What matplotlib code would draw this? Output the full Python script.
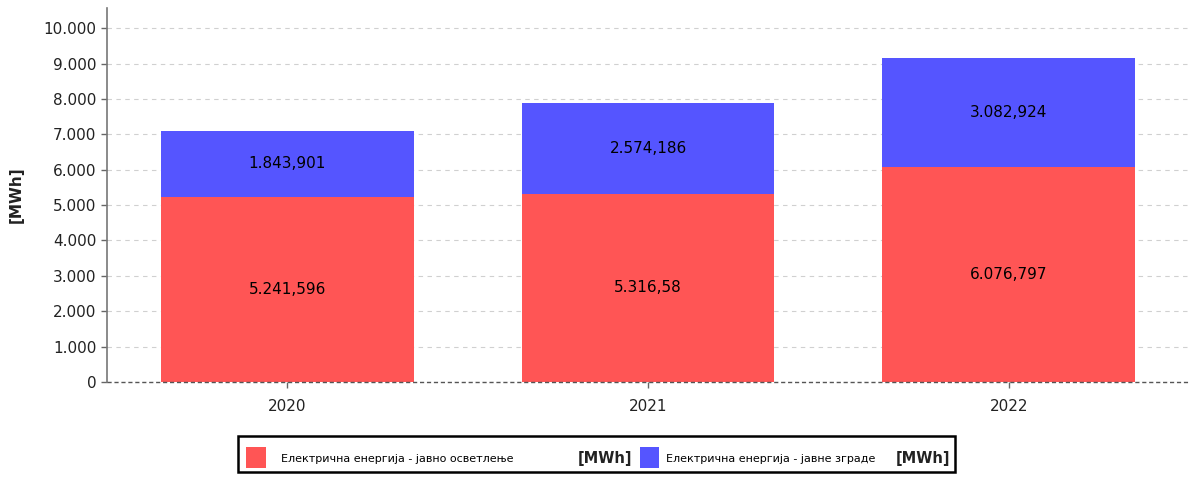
import matplotlib.pyplot as plt
from matplotlib.patches import Rectangle
import numpy as np

#### -------- データ -------- ####
years = ["2020", "2021", "2022"]
lighting = [5241.596, 5316.58, 6076.797]   # јавно осветлење
buildings = [1843.901, 2574.186, 3082.924]  # јавне зграде
lighting_labels = ["5.241,596", "5.316,58", "6.076,797"]
buildings_labels = ["1.843,901", "2.574,186", "3.082,924"]
yticks = [0, 1000, 2000, 3000, 4000, 5000, 6000, 7000, 8000, 9000, 10000]
ytick_labels = ["0", "1.000", "2.000", "3.000", "4.000", "5.000",
                "6.000", "7.000", "8.000", "9.000", "10.000"]

RED = "#FF5555"
BLUE = "#5555FF"

#### -------- グラフ設定 -------- ####
plt.rcParams["font.family"] = ["DejaVu Sans"]
fig = plt.figure(figsize=(11.89, 4.79), dpi=100)
ax = fig.add_axes([0.09, 0.2025, 0.91, 0.7805])

x = np.arange(len(years))
ax.bar(x, lighting, width=0.7, color=RED, zorder=2)
ax.bar(x, buildings, width=0.7, bottom=lighting, color=BLUE, zorder=2)

for i in range(len(years)):
    ax.text(x[i], lighting[i] / 2, lighting_labels[i], ha="center", va="center",
            fontsize=11, color="black", zorder=3)
    ax.text(x[i], lighting[i] + buildings[i] / 2, buildings_labels[i],
            ha="center", va="center", fontsize=11, color="black", zorder=3)

ax.set_xlim(-0.5, 2.5)
ax.set_ylim(0, 10565)
ax.set_xticks(x)
ax.set_xticklabels(years, fontsize=11, color="#222222")
ax.set_yticks(yticks)
ax.set_yticklabels(ytick_labels, fontsize=11, color="#222222")
ax.tick_params(axis="both", color="#666666", length=4, width=1)
ax.tick_params(axis="x", pad=8)

ax.yaxis.grid(True, linestyle=(0, (4, 4)), color="#D0D0D0", lw=0.8, zorder=0)
ax.set_axisbelow(True)
for s in ["top", "right", "bottom"]:
    ax.spines[s].set_visible(False)
ax.spines["left"].set_color("#777777")
ax.spines["left"].set_linewidth(1.2)
ax.axhline(0, color="#555555", linestyle=(0, (3, 2)), lw=1.0, zorder=4, clip_on=False)

ax.set_ylabel("[MWh]", fontsize=11, fontweight="bold", labelpad=14, color="#222222")

#### -------- 凡例 -------- ####
W, H = 1189.0, 479.0
def fx(px):
    return px / W
def fy(py):
    return 1 - py / H

fig.patches.append(Rectangle((fx(238), fy(472)), fx(955) - fx(238), fy(436) - fy(472),
                             transform=fig.transFigure, facecolor="white",
                             edgecolor="black", lw=1.8))
fig.patches.append(Rectangle((fx(246), fy(468)), fx(266) - fx(246), fy(447) - fy(468),
                             transform=fig.transFigure, facecolor=RED, edgecolor="none"))
fig.patches.append(Rectangle((fx(640), fy(468)), fx(659) - fx(640), fy(447) - fy(468),
                             transform=fig.transFigure, facecolor=BLUE, edgecolor="none"))
fig.text(fx(281), fy(459), "Електрична енергија - јавно осветлење", fontsize=8,
         ha="left", va="center")
fig.text(fx(578), fy(458), "[MWh]", fontsize=10.5, fontweight="semibold", ha="left",
         va="center", color="#222222")
fig.text(fx(666), fy(459), "Електрична енергија - јавне зграде", fontsize=8,
         ha="left", va="center")
fig.text(fx(896), fy(458), "[MWh]", fontsize=10.5, fontweight="semibold", ha="left",
         va="center", color="#222222")

fig.savefig("out.png", dpi=100)
